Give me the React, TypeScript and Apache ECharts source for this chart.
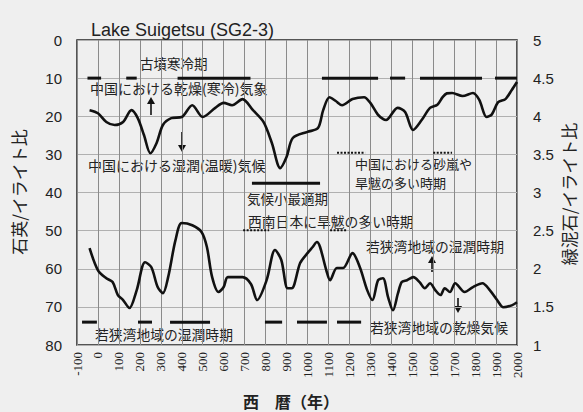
import React, { useEffect, useRef } from "react";
import * as echarts from "echarts";

// Upper curve: quartz / illite ratio (left axis, inverted)
const quartzYears = [-40, 0, 40, 80, 120, 160, 190, 220, 250, 280, 310, 350, 400, 450, 500, 560, 600, 640, 690, 740, 790, 830, 870, 900, 930, 1000, 1050, 1075, 1105, 1135, 1165, 1215, 1270, 1300, 1335, 1360, 1375, 1430, 1466, 1504, 1545, 1585, 1620, 1645, 1665, 1690, 1740, 1790, 1820, 1855, 1880, 1910, 1945, 1975, 2000];
const quartzValues = [18.4, 19.2, 21.5, 22.3, 21.5, 18.4, 20.5, 25, 29.7, 27, 22.3, 20.5, 20.2, 17.1, 20.2, 17.8, 16.5, 17.1, 15.5, 18.4, 21.5, 27, 33.6, 30.7, 25.7, 24.1, 23.1, 18.4, 15, 16, 17.1, 15.5, 15, 16.5, 19.5, 20.7, 21, 17.8, 18.9, 23.6, 21, 17.8, 17, 15, 14, 13.9, 14.7, 13.9, 15.7, 20.2, 19.5, 16.3, 15.5, 13.1, 11];

// Lower curve: chlorite / illite ratio (right axis)
const chloriteYears = [-40, 0, 40, 70, 95, 120, 150, 185, 225, 255, 285, 310, 335, 370, 400, 450, 495, 520, 545, 575, 600, 620, 690, 730, 760, 805, 845, 875, 905, 925, 965, 1000, 1025, 1045, 1060, 1090, 1108, 1140, 1170, 1215, 1250, 1285, 1310, 1337, 1360, 1385, 1408, 1432, 1450, 1475, 1505, 1535, 1560, 1585, 1610, 1635, 1655, 1680, 1705, 1750, 1790, 1835, 1870, 1905, 1935, 1975, 2000];
const chloriteValues = [2.27, 1.98, 1.875, 1.825, 1.655, 1.59, 1.485, 1.72, 2.085, 2.02, 1.76, 1.68, 1.89, 2.375, 2.6, 2.57, 2.48, 2.285, 1.89, 1.695, 1.76, 1.89, 1.89, 1.8, 1.59, 1.85, 2.245, 2.115, 1.745, 1.745, 2.075, 2.205, 2.285, 2.35, 2.285, 1.98, 1.85, 2.01, 2.01, 2.205, 2.02, 1.72, 1.59, 1.85, 1.875, 1.625, 1.455, 1.68, 1.825, 1.85, 1.89, 1.825, 1.745, 1.81, 1.72, 1.655, 1.745, 1.695, 1.81, 1.695, 1.76, 1.81, 1.72, 1.59, 1.495, 1.52, 1.56];

// Period bars [startYear, endYear]
const chinaDryPeriods = [[-50, 15], [135, 185], [380, 728], [1069, 1337], [1394, 1466], [1537, 1833], [1895, 2000]];
const climateOptimum = [[735, 1060]];
const chinaDustPeriods = [[1141, 1275], [1600, 1690]];
const swJapanDrought = [[693, 817], [1108, 1189]];
const wakasaWetPeriods = [[-76, -5], [191, 258], [344, 535], [797, 879], [950, 1093], [1141, 1256]];

// levels on left axis for the period bars
const chinaDryLevel = 10;
const optimumLevel = 37.6;
const dustLevel = 29.6;
const swJapanLevel = 49.9;
const wakasaLevel = 74;

const JP = "'Noto Sans CJK JP', sans-serif";

export default function App() {
  const ref = useRef<HTMLDivElement>(null);
  useEffect(() => {
    if (!ref.current) return;
    const chart = echarts.init(ref.current, undefined, { renderer: "svg" });
    const bars: any[] = [];
    chinaDryPeriods.forEach((p) => bars.push([p[0], p[1], chinaDryLevel, 0]));
    climateOptimum.forEach((p) => bars.push([p[0], p[1], optimumLevel, 0]));
    chinaDustPeriods.forEach((p) => bars.push([p[0], p[1], dustLevel, 1]));
    swJapanDrought.forEach((p) => bars.push([p[0], p[1], swJapanLevel, 1]));
    wakasaWetPeriods.forEach((p) => bars.push([p[0], p[1], wakasaLevel, 0]));

    const txt = (x: number, y: number, text: string, size = 14, extra: any = {}) => ({
      type: "text",
      x,
      y,
      style: {
        text,
        fill: "#222",
        font: `${size}px ${JP}`,
        textVerticalAlign: "middle",
        ...extra,
      },
      silent: true,
    });
    const arrow = (x: number, y1: number, y2: number) => {
      const dir = y2 < y1 ? -1 : 1;
      return {
        type: "group",
        children: [
          { type: "line", shape: { x1: x, y1, x2: x, y2: y2 - dir * 5 }, style: { stroke: "#111", lineWidth: 1.6 } },
          {
            type: "polygon",
            shape: { points: [[x - 4, y2 - dir * 7], [x, y2], [x + 4, y2 - dir * 7]] },
            style: { fill: "#111" },
          },
        ],
      };
    };

    chart.setOption({
      animation: false,
      backgroundColor: "#efefef",
      grid: { left: 77, right: 66, top: 40, bottom: 67, show: true, borderColor: "#222", borderWidth: 1.5 },
      xAxis: {
        type: "value",
        min: -100,
        max: 2000,
        interval: 100,
        axisLine: { show: false },
        axisTick: { show: false },
        splitLine: { show: true, lineStyle: { color: "#8a8a8a", width: 1 } },
        axisLabel: {
          rotate: 90,
          margin: 7,
          color: "#222",
          fontFamily: "'Liberation Serif', serif",
          fontSize: 13,
          formatter: (v: number) => String(v),
        },
      },
      yAxis: [
        {
          type: "value",
          inverse: true,
          min: 0,
          max: 80,
          interval: 10,
          axisLine: { show: false },
          axisTick: { show: false },
          splitLine: { show: true, lineStyle: { color: "#b0b0b0", width: 1 } },
          axisLabel: { margin: 15, color: "#222", fontFamily: "'Liberation Sans', sans-serif", fontSize: 15 },
        },
        {
          type: "value",
          position: "right",
          min: 1,
          max: 5,
          interval: 0.5,
          axisLine: { show: false },
          axisTick: { show: false },
          splitLine: { show: false },
          axisLabel: { margin: 16, color: "#222", fontFamily: "'Liberation Sans', sans-serif", fontSize: 15 },
        },
      ],
      series: [
        {
          type: "line",
          yAxisIndex: 0,
          data: quartzYears.map((y, i) => [y, quartzValues[i]]),
          smooth: 0.3,
          showSymbol: false,
          lineStyle: { color: "#111", width: 2.6 },
        },
        {
          type: "line",
          yAxisIndex: 1,
          data: chloriteYears.map((y, i) => [y, chloriteValues[i]]),
          smooth: 0.3,
          showSymbol: false,
          lineStyle: { color: "#111", width: 2.6 },
        },
        {
          type: "custom",
          yAxisIndex: 0,
          data: bars,
          encode: { x: [0, 1], y: 2 },
          renderItem: (params: any, api: any) => {
            const s = api.coord([api.value(0), api.value(2)]);
            const e = api.coord([api.value(1), api.value(2)]);
            const dotted = api.value(3) === 1;
            return {
              type: "line",
              shape: { x1: s[0], y1: s[1], x2: e[0], y2: e[1] },
              style: {
                stroke: "#111",
                lineWidth: dotted ? 2 : 3,
                lineDash: dotted ? [2, 1.5] : null,
              },
            };
          },
        },
      ],
      graphic: [
        {
          type: "text",
          x: 91,
          y: 30,
          style: {
            text: "Lake Suigetsu (SG2-3)",
            fill: "#222",
            font: "18px 'Liberation Sans', sans-serif",
            textVerticalAlign: "middle",
          },
        },
        txt(140, 63, "古墳寒冷期", 13.5),
        txt(90, 88, "中国における乾燥(寒冷)気象", 14),
        txt(88, 165, "中国における湿潤(温暖)気候", 14),
        txt(247, 198, "気候小最適期", 13.5),
        txt(355, 163, "中国における砂嵐や", 13),
        txt(355, 182, "旱魃の多い時期", 13),
        txt(248, 221, "西南日本に旱魃の多い時期", 13.8),
        txt(366, 246, "若狭湾地域の湿潤時期", 13.8),
        txt(370, 327, "若狭湾地域の乾燥気候", 13.8),
        txt(95, 334, "若狭湾地域の湿潤時期", 13.8),
        arrow(151, 115, 97),
        arrow(182, 132, 152),
        arrow(432, 272, 256),
        arrow(458, 298, 313),
        {
          type: "text",
          x: 18,
          y: 192,
          rotation: Math.PI / 2,
          style: {
            text: "石英/イライト比",
            fill: "#222",
            font: `17px ${JP}`,
            textAlign: "center",
            textVerticalAlign: "middle",
          },
        },
        {
          type: "text",
          x: 568,
          y: 194,
          rotation: Math.PI / 2,
          style: {
            text: "緑泥石/イライト比",
            fill: "#222",
            font: `17px ${JP}`,
            textAlign: "center",
            textVerticalAlign: "middle",
          },
        },
        {
          type: "text",
          x: 243,
          y: 401,
          style: {
            text: "西　暦（年）",
            fill: "#222",
            font: `bold 16px ${JP}`,
            textVerticalAlign: "middle",
          },
        },
      ],
    });
    return () => chart.dispose();
  }, []);
  return (
    <div
      ref={ref}
      style={{ position: "fixed", left: 0, top: 0, width: 583, height: 412, background: "#efefef" }}
    />
  );
}
